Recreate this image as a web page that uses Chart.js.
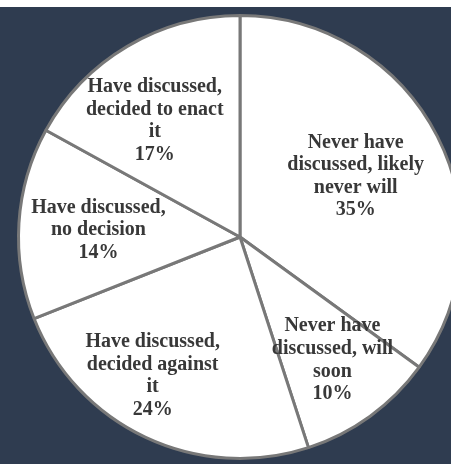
<!DOCTYPE html>
<html>
<head>
<meta charset="utf-8">
<script src="https://cdn.jsdelivr.net/npm/chart.js@4"></script>
<style>
  html, body { margin: 0; padding: 0; background: #ffffff; }
  body { width: 451px; height: 464px; overflow: hidden; }
  #wrap { position: absolute; left: 0; top: 7px; width: 451px; height: 457px; overflow: hidden; background: #2f3c50; }
  #wrap canvas { display: block; }
</style>
</head>
<body>
<div id="wrap"><canvas id="chart" width="480" height="457"></canvas></div>
<script>
// Slice names (already split into the lines shown in the picture)
const categories = [
    ["Never have", "discussed, likely", "never will"],
    ["Never have", "discussed, will", "soon"],
    ["Have discussed,", "decided against", "it"],
    ["Have discussed,", "no decision"],
    ["Have discussed,", "decided to enact", "it"]
];

// Percent of respondents
const values = [35, 10, 24, 14, 17];

// where each label sits inside its slice: fraction of radius, angle nudge (deg)
const labelRadius = [0.59, 0.695, 0.74, 0.64, 0.65];
const labelShift = [-0.7, -0.9, 7, -0.8, -5.7];

// Labels inside slices
const sliceLabels = {
    id: "sliceLabels",
    afterDatasetsDraw(chart) {
        let ctx = chart.ctx;
        let meta = chart.getDatasetMeta(0);
        ctx.save();
        ctx.font = "bold 20px 'Liberation Serif', 'Times New Roman', serif";
        ctx.fillStyle = "#383838";
        ctx.textAlign = "center";
        ctx.textBaseline = "middle";
        let lh = 22.6;
        meta.data.forEach((arc, i) => {
            let mid = (arc.startAngle + arc.endAngle) / 2 + labelShift[i] * Math.PI / 180;
            let r = arc.outerRadius * labelRadius[i];
            let x = arc.x + Math.cos(mid) * r;
            let y = arc.y + Math.sin(mid) * r;
            let lines = categories[i].concat([values[i] + "%"]);
            let top = y - (lines.length - 1) * lh / 2;
            lines.forEach((t, k) => ctx.fillText(t, x, top + k * lh));
        });
        ctx.restore();
    }
};

let ctx = document.getElementById("chart").getContext("2d");

let chart = new Chart(ctx, {
    type: "pie",
    data: {
        labels: categories,
        datasets: [{
            data: values,
            backgroundColor: "#ffffff",
            borderColor: "#787878",
            borderWidth: 3
        }]
    },
    options: {
        responsive: false,
        animation: false,
        layout: { padding: { left: 17, right: 17, top: 7, bottom: 4 } },
        plugins: {
            legend: { display: false },
            tooltip: { enabled: false }
        }
    },
    plugins: [sliceLabels]
});
</script>
</body>
</html>
